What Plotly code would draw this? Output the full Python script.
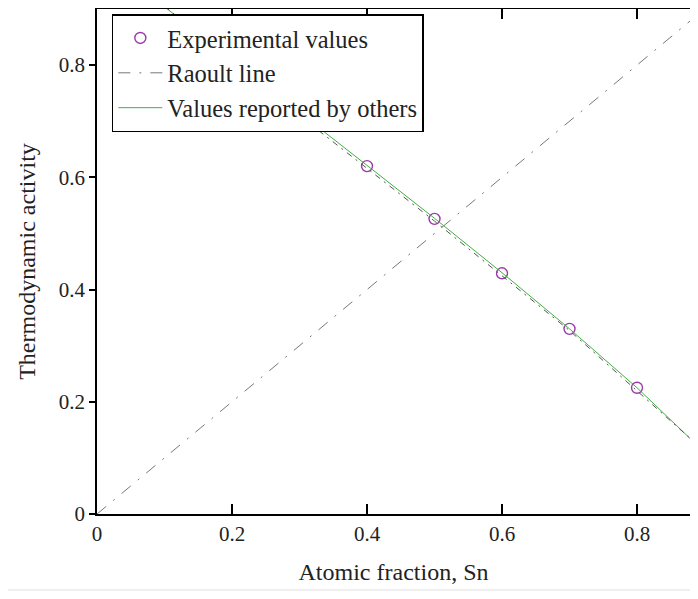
import plotly.graph_objects as go

# Experimental values
exp_x = [0.4, 0.5, 0.6, 0.7, 0.8]
exp_y = [0.620, 0.526, 0.429, 0.330, 0.225]

# Raoult line
raoult_x = [0.0, 1.0]
raoult_y = [0.0, 1.0]

# Values reported by others
others_x = [0.1, 0.2, 0.3, 0.4, 0.5, 0.6, 0.7, 0.8, 0.9]
others_y = [0.904, 0.81, 0.715, 0.622, 0.527, 0.43, 0.33, 0.225, 0.11]

# Dash-dot fit line through experimental values (no legend entry)
fit_x = [0.1, 0.3, 0.5, 0.7, 0.9]
fit_y = [0.905, 0.71, 0.522, 0.327, 0.112]

x_ticks = [0, 0.2, 0.4, 0.6, 0.8]
x_ticklabels = ["0", "0.2", "0.4", "0.6", "0.8"]
y_ticks = [0, 0.2, 0.4, 0.6, 0.8]
y_ticklabels = ["0", "0.2", "0.4", "0.6", "0.8"]

FONT = "Liberation Serif"

fig = go.Figure()

fig.add_trace(go.Scatter(
    x=exp_x, y=exp_y, mode="markers", name="Experimental values",
    marker=dict(symbol="circle-open", size=11, color="#9a3aa8", line=dict(width=1.4)),
))
fig.add_trace(go.Scatter(
    x=raoult_x, y=raoult_y, mode="lines", name="Raoult line",
    line=dict(color="#777777", width=1, dash="12px,9px,2px,9px"),
))
fig.add_trace(go.Scatter(
    x=others_x, y=others_y, mode="lines", name="Values reported by others",
    line=dict(color="#40b040", width=1),
))
fig.add_trace(go.Scatter(
    x=fit_x, y=fit_y, mode="lines", showlegend=False,
    line=dict(color="#555555", width=1, dash="6px,5px,2px,5px"),
))

axis_common = dict(
    showgrid=False, zeroline=False, showline=True, linecolor="black",
    linewidth=1.5, mirror="allticks", ticks="inside", ticklen=10,
    tickwidth=1.5, tickcolor="black", automargin=False,
    tickfont=dict(family=FONT, size=21, color="#222"),
)

fig.update_layout(
    width=682, height=583,
    margin=dict(l=89, r=0, t=1, b=77),
    paper_bgcolor="white", plot_bgcolor="white",
    font=dict(family=FONT, color="#222"),
    xaxis=dict(range=[0, 0.8785], tickvals=x_ticks, ticktext=x_ticklabels,
               title=dict(text="Atomic fraction, Sn", font=dict(family=FONT, size=24), standoff=18),
               **axis_common),
    yaxis=dict(range=[0, 0.9], tickvals=y_ticks, ticktext=y_ticklabels,
               title=dict(text="Thermodynamic activity", font=dict(family=FONT, size=24), standoff=16),
               **{**axis_common, "ticks": "outside", "ticklen": 6}),
    legend=dict(x=0.025, y=0.99, xanchor="left", yanchor="top",
                bgcolor="white", bordercolor="black", borderwidth=1.5,
                font=dict(family=FONT, size=24.5, color="#222"),
                tracegroupgap=0, itemwidth=44),
    showlegend=True,
    shapes=[dict(type="rect", xref="paper", yref="paper",
                 x0=-0.3, x1=1.1, y0=-0.25, y1=-0.1485,
                 fillcolor="#efefef", line=dict(width=0), layer="below")],
)

fig.write_html("out.html")
